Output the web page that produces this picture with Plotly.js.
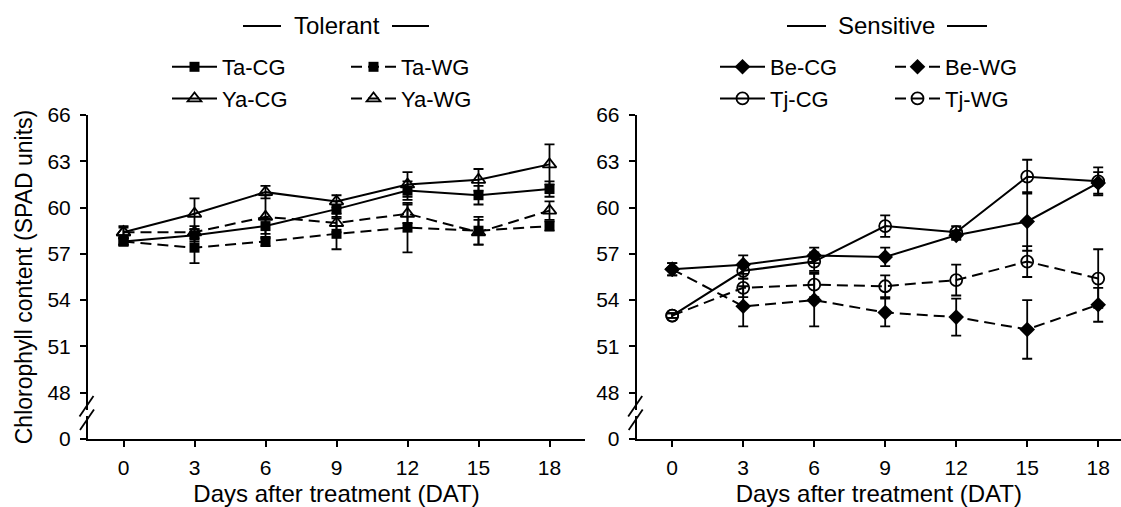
<!DOCTYPE html>
<html>
<head>
<meta charset="utf-8">
<script src="https://cdn.plot.ly/plotly-3.0.1.min.js"></script>
<style>
  html, body { margin: 0; padding: 0; background: #fff; }
  #chart { width: 1121px; height: 507px; }
</style>
</head>
<body>
<div id="chart"></div>
<script>
// ---------------- data ----------------
const days = [0, 3, 6, 9, 12, 15, 18];

// Tolerant group
const taCG    = [57.8, 58.2, 58.8, 59.9, 61.1, 60.8, 61.2];
const taCGerr = [0.2, 0.4, 0.5, 0.5, 0.6, 0.6, 0.5];
const taWG    = [57.8, 57.4, 57.8, 58.3, 58.7, 58.5, 58.8];
const taWGerr = [0.2, 1.0, 0.3, 1.0, 1.6, 0.9, 0.3];
const yaCG    = [58.4, 59.6, 61.0, 60.4, 61.5, 61.8, 62.8];
const yaCGerr = [0.4, 1.0, 0.4, 0.4, 0.8, 0.7, 1.3];
const yaWG    = [58.4, 58.4, 59.4, 59.0, 59.6, 58.4, 59.8];
const yaWGerr = [0.3, 0.4, 1.4, 0.6, 0.6, 0.8, 0.6];

// Sensitive group
const beCG    = [56.0, 56.3, 56.9, 56.8, 58.2, 59.1, 61.6];
const beCGerr = [0.4, 0.6, 0.5, 0.6, 0.3, 1.9, 0.7];
const beWG    = [56.0, 53.6, 54.0, 53.2, 52.9, 52.1, 53.7];
const beWGerr = [0.4, 1.3, 1.7, 0.9, 1.2, 1.9, 1.1];
const tjCG    = [53.0, 55.9, 56.5, 58.8, 58.4, 62.0, 61.7];
const tjCGerr = [0.15, 0.5, 0.6, 0.7, 0.4, 1.1, 0.9];
const tjWG    = [53.0, 54.8, 55.0, 54.9, 55.3, 56.5, 55.4];
const tjWGerr = [0.15, 0.6, 0.8, 0.7, 1.0, 1.0, 1.9];

// y axis: broken axis, bottom tick labelled "0"
const yTickVals = [45, 48, 51, 54, 57, 60, 63, 66];
const yTickText = ['0', '48', '51', '54', '57', '60', '63', '66'];

const groupTitles = ['Tolerant', 'Sensitive'];
const xTitle = 'Days after treatment (DAT)';
const yTitle = 'Chlorophyll content (SPAD units)';

// ---------------- layout helpers ----------------
const W = 1121, H = 507;
const M = {l: 88, r: 0, t: 115, b: 68};
const PW = W - M.l - M.r, PH = H - M.t - M.b;
const px2x = p => (p - M.l) / PW;
const py2y = p => (H - M.b - p) / PH;

const FONT = 'Liberation Sans, Arial, Helvetica, sans-serif';
const DASH = '11px,6px';

function mk(name, y, err, solid, symbol, size, xa, ya, legend) {
  const open = symbol.indexOf('open') >= 0;
  return {
    type: 'scatter', mode: 'lines+markers', name: name,
    x: days, y: y, xaxis: xa, yaxis: ya, legend: legend,
    line: {color: '#000', width: 2, dash: solid ? 'solid' : DASH},
    marker: {symbol: symbol, size: size, color: '#000',
             line: {color: '#000', width: open ? 1.8 : 0}},
    error_y: {type: 'data', array: err, visible: true, color: '#000',
              thickness: 1.8, width: 5},
    hoverinfo: 'x+y+name'
  };
}

const traces = [
  mk('Ta-CG', taCG, taCGerr, true,  'square', 10, 'x', 'y', 'legend'),
  mk('Ya-CG', yaCG, yaCGerr, true,  'triangle-up-open', 12, 'x', 'y', 'legend'),
  mk('Ta-WG', taWG, taWGerr, false, 'square', 10, 'x', 'y', 'legend2'),
  mk('Ya-WG', yaWG, yaWGerr, false, 'triangle-up-open', 12, 'x', 'y', 'legend2'),
  mk('Be-CG', beCG, beCGerr, true,  'diamond', 12, 'x2', 'y2', 'legend3'),
  mk('Tj-CG', tjCG, tjCGerr, true,  'circle-open', 12, 'x2', 'y2', 'legend3'),
  mk('Be-WG', beWG, beWGerr, false, 'diamond', 12, 'x2', 'y2', 'legend4'),
  mk('Tj-WG', tjWG, tjWGerr, false, 'circle-open', 12, 'x2', 'y2', 'legend4')
];

const pxPerDay = 497 / 21;
const x2start = 636.7;
const x2end = -1.5 + (W - x2start) / pxPerDay;

const xBase = {
  tickvals: days, ticks: 'outside', ticklen: 6, tickwidth: 2, tickcolor: '#000',
  showline: true, linewidth: 2, linecolor: '#000', showgrid: false, zeroline: false,
  tickfont: {family: FONT, size: 21, color: '#000'}, ticklabelstandoff: 3,
  title: {text: xTitle, font: {family: FONT, size: 24, color: '#000'}, standoff: 8},
  fixedrange: true
};
const yBase = {
  range: [45, 66], tickvals: yTickVals, ticktext: yTickText,
  ticks: 'outside', ticklen: 6, tickwidth: 2, tickcolor: '#000',
  showline: true, linewidth: 2, linecolor: '#000', showgrid: false, zeroline: false,
  tickfont: {family: FONT, size: 21, color: '#000'}, ticklabelstandoff: 5,
  fixedrange: true
};

function legendAt(px, pyTop) {
  return {
    x: px2x(px), y: py2y(pyTop), xanchor: 'left', yanchor: 'top',
    font: {family: FONT, size: 22, color: '#000'},
    bgcolor: 'rgba(0,0,0,0)', borderwidth: 0, itemwidth: 45,
    tracegroupgap: 0, itemclick: false, itemdoubleclick: false
  };
}

function headerShapes(x1, x2, x3, x4, py) {
  const y = py2y(py);
  return [
    {type: 'line', xref: 'paper', yref: 'paper', x0: px2x(x1), x1: px2x(x2), y0: y, y1: y,
     line: {color: '#000', width: 1.8}},
    {type: 'line', xref: 'paper', yref: 'paper', x0: px2x(x3), x1: px2x(x4), y0: y, y1: y,
     line: {color: '#000', width: 1.8}}
  ];
}

function breakShapes(axX) {
  const s = [];
  s.push({type: 'rect', xref: 'paper', yref: 'paper',
          x0: px2x(axX - 3), x1: px2x(axX + 3), y0: py2y(416), y1: py2y(410),
          fillcolor: '#fff', line: {width: 0}, layer: 'above'});
  s.push({type: 'line', xref: 'paper', yref: 'paper',
          x0: px2x(axX - 8.5), y0: py2y(416.5), x1: px2x(axX + 5.5), y1: py2y(396),
          line: {color: '#000', width: 1.8}, layer: 'above'});
  s.push({type: 'line', xref: 'paper', yref: 'paper',
          x0: px2x(axX - 8), y0: py2y(430), x1: px2x(axX + 6), y1: py2y(409.5),
          line: {color: '#000', width: 1.8}, layer: 'above'});
  return s;
}

const layout = {
  width: W, height: H,
  margin: {l: M.l, r: M.r, t: M.t, b: M.b, autoexpand: false},
  paper_bgcolor: '#fff', plot_bgcolor: '#fff',
  font: {family: FONT, color: '#000'},
  showlegend: true,
  xaxis: Object.assign({}, xBase, {domain: [0, 497 / PW], range: [-1.5, 19.5], anchor: 'y'}),
  yaxis: Object.assign({}, yBase, {domain: [0, 1], anchor: 'x',
          title: {text: yTitle, font: {family: FONT, size: 23, color: '#000'}, standoff: 8}}),
  xaxis2: Object.assign({}, xBase, {domain: [px2x(x2start), 1], range: [-1.5, x2end], anchor: 'y2'}),
  yaxis2: Object.assign({}, yBase, {domain: [0, 1], anchor: 'x2'}),
  legend: legendAt(167, 46),
  legend2: legendAt(346, 46),
  legend3: legendAt(715, 46),
  legend4: legendAt(890, 46),
  annotations: [
    {text: groupTitles[0], xref: 'paper', yref: 'paper', x: px2x(336.5), y: py2y(26),
     xanchor: 'center', yanchor: 'middle', showarrow: false,
     font: {family: FONT, size: 24, color: '#000'}},
    {text: groupTitles[1], xref: 'paper', yref: 'paper', x: px2x(886), y: py2y(26),
     xanchor: 'center', yanchor: 'middle', showarrow: false,
     font: {family: FONT, size: 24, color: '#000'}}
  ],
  shapes: [].concat(
    headerShapes(243, 281, 392, 429, 26),
    headerShapes(787, 826, 947, 987, 26),
    breakShapes(88),
    breakShapes(x2start)
  )
};

Plotly.newPlot('chart', traces, layout, {staticPlot: true, displayModeBar: false});
</script>
</body>
</html>
